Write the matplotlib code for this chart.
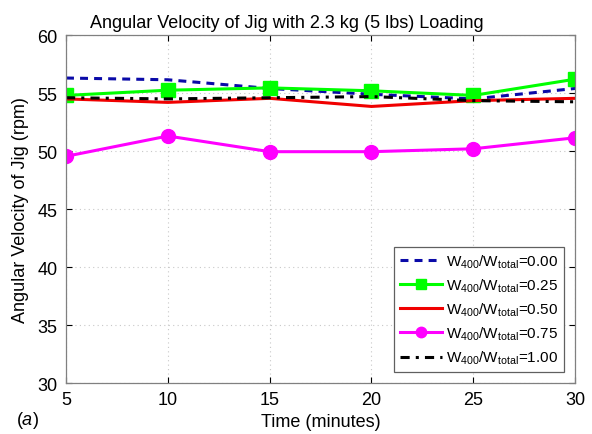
import numpy as np
import matplotlib
matplotlib.use('Agg')
from matplotlib import pyplot as plt

plt.rcParams['font.family'] = ['Liberation Sans', 'DejaVu Sans']
plt.rcParams['mathtext.fontset'] = 'custom'
plt.rcParams['mathtext.rm'] = 'Liberation Sans'
plt.rcParams['mathtext.it'] = 'Liberation Sans:italic'

time_min = [5, 10, 15, 20, 25, 30]
ratio_000 = [56.3, 56.15, 55.4, 54.9, 54.5, 55.4]
ratio_025 = [54.8, 55.25, 55.45, 55.2, 54.8, 56.2]
ratio_050 = [54.5, 54.2, 54.55, 53.85, 54.35, 54.55]
ratio_075 = [49.55, 51.3, 49.95, 49.95, 50.2, 51.15]
ratio_100 = [54.6, 54.5, 54.6, 54.7, 54.35, 54.25]

def lbl(v):
    return r'W$_{400}$/W$_{\mathrm{total}}$=' + v

fig = plt.figure(figsize=(5.92, 4.35), dpi=100)
ax = fig.add_axes([0.1115, 0.117, 0.86, 0.8])

ax.plot(time_min, ratio_000, color='#0a0aa8', linestyle=(0, (2.6, 2.0)), lw=2.2, label=lbl('0.00'))
ax.plot(time_min, ratio_025, color='#00ff00', lw=2.2, marker='s', ms=10, label=lbl('0.25'))
ax.plot(time_min, ratio_050, color='#f00000', lw=2.2, label=lbl('0.50'))
ax.plot(time_min, ratio_075, color='#ff00ff', lw=2.2, marker='o', ms=10, label=lbl('0.75'))
ax.plot(time_min, ratio_100, color='black', linestyle=(0, (3, 2, 1, 2)), lw=2.2, label=lbl('1.00'))

ax.set_xlim(5, 30)
ax.set_ylim(30, 60)
ax.set_xticks(np.arange(5, 31, 5))
ax.set_yticks(np.arange(30, 61, 5))
ax.grid(True, linestyle=(0, (1, 3)), color='#c8c8c8', lw=0.8)
ax.tick_params(direction='in', top=True, right=True, labelsize=13, length=4, pad=6)
for s in ax.spines.values():
    s.set_color('#808080')
    s.set_linewidth(0.9)

ax.set_title('Angular Velocity of Jig with 2.3 kg (5 lbs) Loading', fontsize=13, pad=6, x=0.434)
ax.set_xlabel('Time (minutes)', fontsize=13, labelpad=3)
ax.set_ylabel('Angular Velocity of Jig (rpm)', fontsize=13, labelpad=6)

leg = ax.legend(loc='lower right', fontsize=11, handlelength=2.8, labelspacing=0.44,
                borderaxespad=0.75, fancybox=False, framealpha=1, handletextpad=0.25,
                borderpad=0.35, markerscale=0.75)
leg.get_frame().set_edgecolor('#606060')
leg.get_frame().set_linewidth(0.9)

fig.text(0.027, 0.022, r'($\it{a}$)', fontsize=13)

fig.savefig('out.png', dpi=100)
